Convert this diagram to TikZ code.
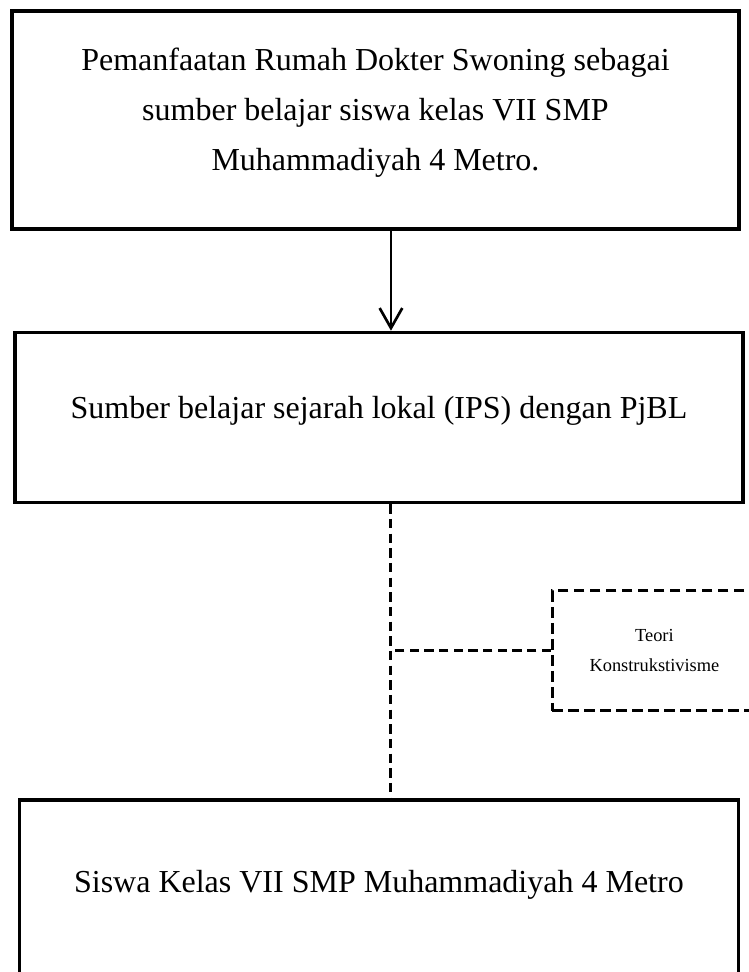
\documentclass[tikz,border=0pt]{standalone}
\usepackage{fontspec}
\setmainfont{Liberation Serif}
\usetikzlibrary{positioning,calc,arrows.meta}

\begin{document}
\begin{tikzpicture}[
    node distance=75pt,
    box/.style={rectangle, draw, line width=2.6pt, inner sep=6pt, align=center, font=\fontsize{24}{37.5}\selectfont},
    dbox/.style={rectangle, draw, line width=2.2pt, dash pattern=on 8pt off 4pt, minimum width=153pt, minimum height=90pt, align=center, font=\fontsize{13.8}{22.5}\selectfont},
    arrow/.style={-{Straight Barb[length=15pt,width=17pt]}, line width=2pt},
    dline/.style={line width=2.2pt, dash pattern=on 7pt off 4pt}
]

% Page frame
\clip (-281.625pt,90pt) rectangle (280.125pt,-639pt);

% Top box
\node[box, minimum width=545.25pt, minimum height=163.5pt, text depth=15.5pt] (pemanfaatan) at (0,0) {Pemanfaatan Rumah Dokter Swoning sebagai\\sumber belajar siswa kelas VII SMP\\Muhammadiyah 4 Metro.};

% Middle box
\node[box, minimum width=546pt, minimum height=127.5pt, text depth=15.5pt, below=of pemanfaatan, xshift=2.6pt] (sumber) {Sumber belajar sejarah lokal (IPS) dengan PjBL};

% Bottom box - runs off the page
\node[box, minimum width=539.25pt, text height=63.75pt, text depth=160pt, below=220.5pt of sumber] (siswa) {Siswa Kelas VII SMP Muhammadiyah 4 Metro};

% Theory box
\node[dbox, anchor=west] (teori) at ($(sumber.south)+(129pt,-110pt)$) {Teori\\Konstrukstivisme};

% Spine of the connectors
\coordinate (spine) at ([xshift=9pt]sumber.south);

% Arrow from top to middle
\draw[arrow] (pemanfaatan.south -| spine) -- (sumber.north -| spine);

% Dashed lines
\draw[dline] (spine) -- (siswa.north -| spine);
\draw[dline] (teori.west) -- (teori.west -| spine);

\end{tikzpicture}
\end{document}
